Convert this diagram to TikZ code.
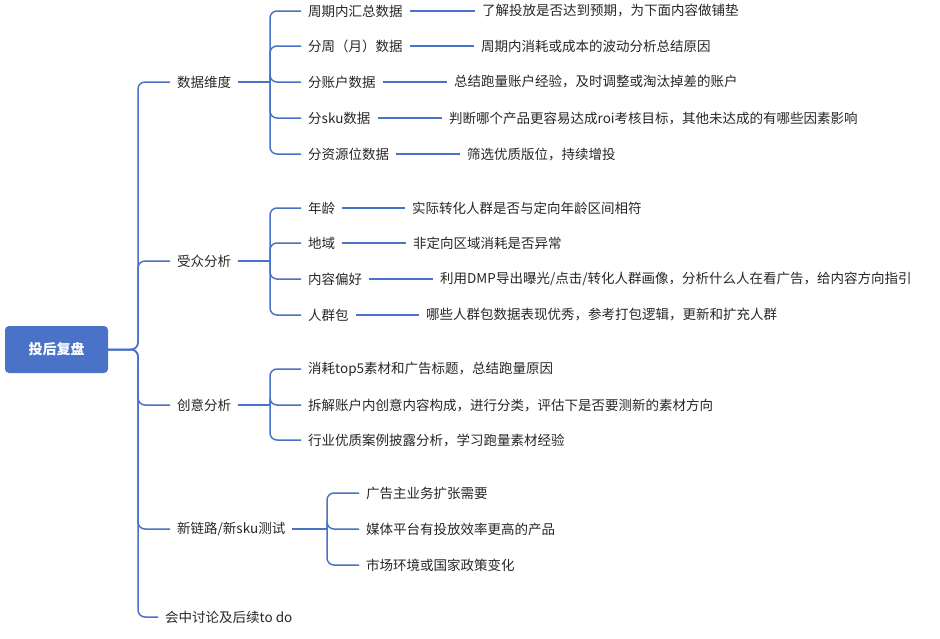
\documentclass[tikz,border=0pt]{standalone}
\usepackage{fontspec}
\setmainfont{Noto Sans CJK SC}
\usetikzlibrary{positioning}
\definecolor{mapblue}{HTML}{4A72C6}
\tikzset{
	every node/.append style={
		font={\fontsize{13.5}{15}\selectfont},
		text=black!85,
		inner ysep=2pt,
		inner xsep=7pt,
	},
	topic/.append style={
		anchor=west,
	},
	rootbox/.append style={
		fill=mapblue,
		rounded corners=4pt,
		minimum width=103pt,
		minimum height=47pt,
		text=white,
		font={\fontsize{14}{16}\selectfont\bfseries},
	},
	link/.append style={
		draw=mapblue,
		line width=1.5pt,
		rounded corners=7pt,
	},
}
\begin{document}
\begin{tikzpicture}[x=1pt,y=-1pt]
	\useasboundingbox (0,0) rectangle (940,638);
	
	\node (root)[rootbox] at (56.5,349.5) {投后复盘};
	
	% level one
	\node (data)[topic] at (170,82) {数据维度};
	\node (audience)[topic] at (170,261) {受众分析};
	\node (creative)[topic] at (170,405) {创意分析};
	\node (newlink)[topic] at (170,529) {新链路/新sku测试};
	\node (meeting)[topic] at (158,617) {会中讨论及后续to do};
	
	\foreach \n in {data, audience, creative, newlink, meeting}
		\draw[link] (root.east) -- (138,349.5) |- (\n.west);
	
	% data
	\node (d1)[topic] at (301,11) {周期内汇总数据};
	\node (d2)[topic] at (301,46) {分周（月）数据};
	\node (d3)[topic] at (301,82) {分账户数据};
	\node (d4)[topic] at (301,118) {分sku数据};
	\node (d5)[topic] at (301,154) {分资源位数据};
	\node (d1x)[topic] at (475,11) {了解投放是否达到预期，为下面内容做铺垫};
	\node (d2x)[topic] at (474,46) {周期内消耗或成本的波动分析总结原因};
	\node (d3x)[topic] at (447,82) {总结跑量账户经验，及时调整或淘汰掉差的账户};
	\node (d4x)[topic] at (442,118) {判断哪个产品更容易达成roi考核目标，其他未达成的有哪些因素影响};
	\node (d5x)[topic] at (460,154) {筛选优质版位，持续增投};
	\draw[link] (data.east) -- (270,82);
	\foreach \n in {1,...,5}{
		\draw[link] (270,82) |- (d\n.west);
		\draw[link] (d\n.east) -- (d\n x.west);
	}
	
	% audience
	\node (a1)[topic] at (301,208) {年龄};
	\node (a2)[topic] at (301,243) {地域};
	\node (a3)[topic] at (301,279) {内容偏好};
	\node (a4)[topic] at (301,315) {人群包};
	\node (a1x)[topic] at (405,208) {实际转化人群是否与定向年龄区间相符};
	\node (a2x)[topic] at (406,243) {非定向区域消耗是否异常};
	\node (a3x)[topic] at (433,279) {利用DMP导出曝光/点击/转化人群画像，分析什么人在看广告，给内容方向指引};
	\node (a4x)[topic] at (419,315) {哪些人群包数据表现优秀，参考打包逻辑，更新和扩充人群};
	\draw[link] (audience.east) -- (270,261);
	\foreach \n in {1,...,4}{
		\draw[link] (270,261) |- (a\n.west);
		\draw[link] (a\n.east) -- (a\n x.west);
	}
	
	% creative
	\node (c1)[topic] at (301,369) {消耗top5素材和广告标题，总结跑量原因};
	\node (c2)[topic] at (301,405) {拆解账户内创意内容构成，进行分类，评估下是否要测新的素材方向};
	\node (c3)[topic] at (301,440) {行业优质案例披露分析，学习跑量素材经验};
	\draw[link] (creative.east) -- (270,405);
	\foreach \n in {1,2,3}
		\draw[link] (270,405) |- (c\n.west);
	
	% new link
	\node (n1)[topic] at (359,493) {广告主业务扩张需要};
	\node (n2)[topic] at (359,529) {媒体平台有投放效率更高的产品};
	\node (n3)[topic] at (359,565) {市场环境或国家政策变化};
	\draw[link] (newlink.east) -- (327,529);
	\foreach \n in {1,2,3}
		\draw[link] (327,529) |- (n\n.west);
	
\end{tikzpicture}
\end{document}
